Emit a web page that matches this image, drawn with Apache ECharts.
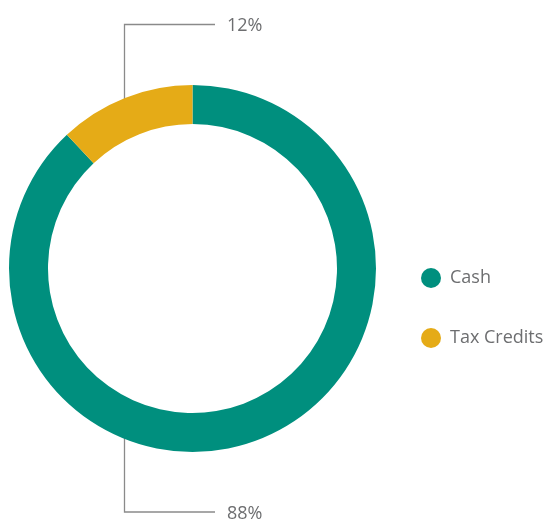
<!DOCTYPE html>
<html>
<head>
<meta charset="utf-8">
<script src="https://cdn.jsdelivr.net/npm/echarts@6/dist/echarts.min.js"></script>
<style>
  html, body { margin: 0; padding: 0; background: #fff; }
  #chart { width: 548px; height: 520px; }
</style>
</head>
<body>
<div id="chart"></div>
<script>
const categories = ['Cash', 'Tax Credits']
const shares = [88, 12]
const colors = ['#008f7e', '#e5ab17']

// ring geometry
const cx = 192.5
const cy = 268.5
const rIn = 144.5
const rOut = 183.5

// leader lines: vertical at cx - 68, start inside ring, end at label row
const lineX = cx - 68
const lineStart = [424, 115]
const labelRow = [512, 24.5]
const lineEndX = 215
const labelX = 227

const chart = echarts.init(document.getElementById('chart'))

chart.setOption({
  backgroundColor: '#fff',
  animation: false,
  color: colors,
  legend: {
    orient: 'vertical',
    left: 416,
    top: 263,
    icon: 'circle',
    itemWidth: 20,
    itemHeight: 20,
    itemGap: 40,
    data: categories,
    textStyle: { fontFamily: 'Open Sans', fontSize: 18, color: '#6d6e70', padding: [0, 0, 0, 4] }
  },
  series: [{
    type: 'pie',
    center: [cx, cy],
    radius: [rIn, rOut],
    startAngle: 90,
    clockwise: true,
    data: categories.map((name, i) => ({ name: name, value: shares[i] })),
    label: {
      show: true,
      position: 'outside',
      formatter: '{c}%',
      fontFamily: 'Open Sans',
      fontSize: 18,
      color: '#6d6e70'
    },
    labelLine: {
      show: true,
      lineStyle: { color: '#8a8a8a', width: 1.3 }
    },
    labelLayout: (params) => {
      const i = params.dataIndex
      return {
        x: labelX,
        y: labelRow[i] + 1.5,
        align: 'left',
        verticalAlign: 'middle',
        labelLinePoints: [[lineX, lineStart[i]], [lineX, labelRow[i]], [lineEndX, labelRow[i]]]
      }
    },
    itemStyle: { borderWidth: 0 },
    emphasis: { disabled: true }
  }]
})
</script>
</body>
</html>
